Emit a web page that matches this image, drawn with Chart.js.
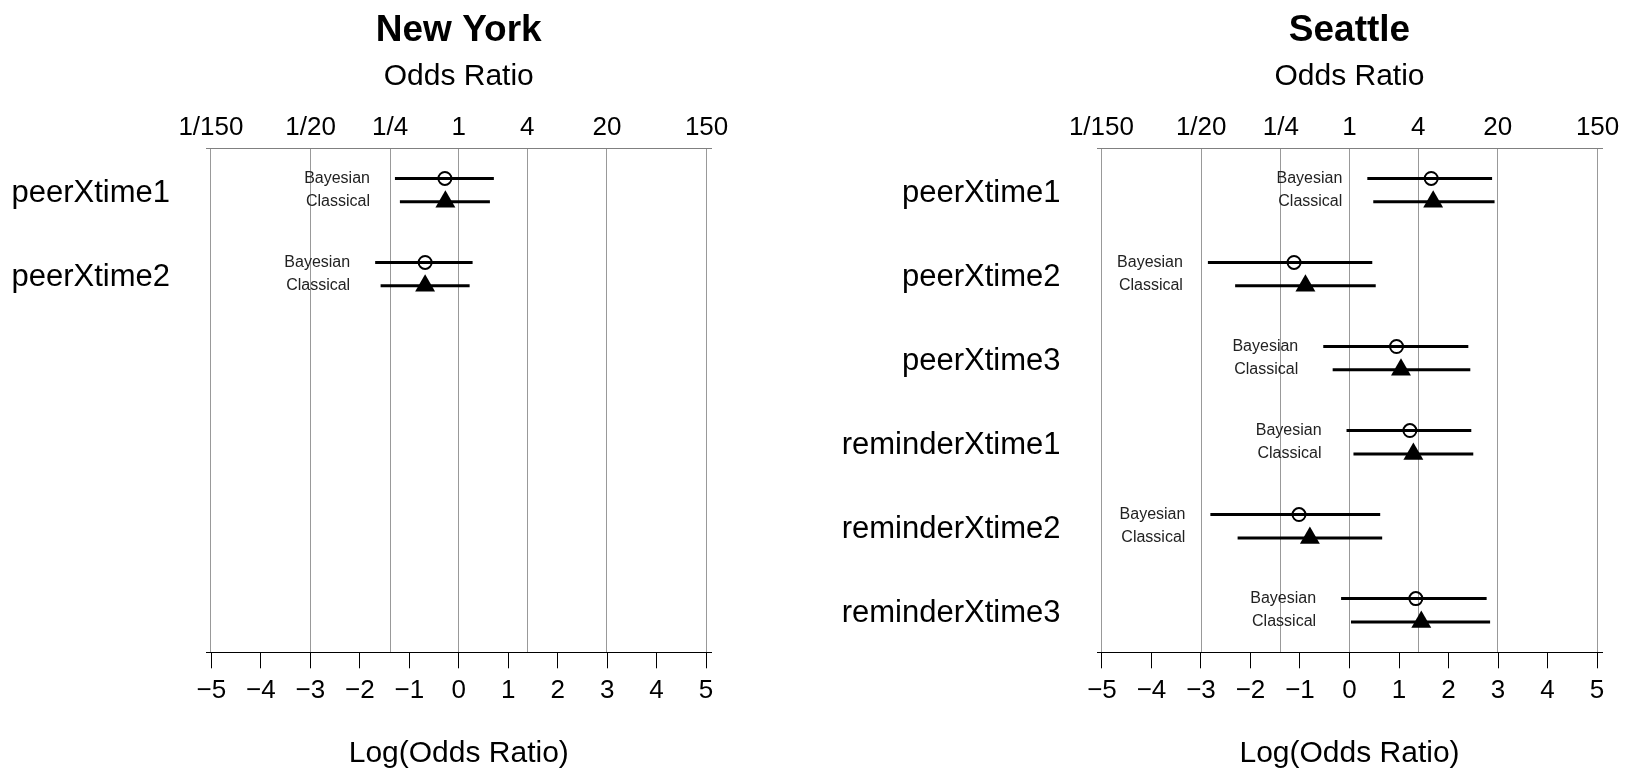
<!DOCTYPE html>
<html>
<head>
<meta charset="utf-8">
<script src="https://cdn.jsdelivr.net/npm/chart.js@4.4.1/dist/chart.umd.min.js"></script>
<style>
  html, body { margin: 0; padding: 0; background: #fff; }
  #wrap { position: relative; width: 1625px; height: 773px; }
  canvas { position: absolute; top: 0; }
  #ny { left: 0; }
  #sea { left: 812px; }
</style>
</head>
<body>
<div id="wrap">
  <canvas id="ny" width="812" height="773"></canvas>
  <canvas id="sea" width="813" height="773"></canvas>
</div>
<script>
// top axis: odds ratio labels, placed at log(odds)
const oddsLabels = ['1/150', '1/20', '1/4', '1', '4', '20', '150'];
const oddsValues = [1 / 150, 1 / 20, 1 / 4, 1, 4, 20, 150];
// bottom axis: log odds ticks
const logTicks = [-5, -4, -3, -2, -1, 0, 1, 2, 3, 4, 5];

// New York
const nyTerms = ['peerXtime1', 'peerXtime2'];
const nyBayesEst = [-0.28, -0.68];
const nyBayesLow = [-1.29, -1.69];
const nyBayesHigh = [0.71, 0.28];
const nyClassEst = [-0.27, -0.68];
const nyClassLow = [-1.19, -1.58];
const nyClassHigh = [0.63, 0.22];

// Seattle
const seaTerms = ['peerXtime1', 'peerXtime2', 'peerXtime3', 'reminderXtime1', 'reminderXtime2', 'reminderXtime3'];
const seaBayesEst = [1.65, -1.12, 0.95, 1.22, -1.02, 1.34];
const seaBayesLow = [0.36, -2.86, -0.53, -0.06, -2.81, -0.17];
const seaBayesHigh = [2.88, 0.46, 2.40, 2.46, 0.62, 2.77];
const seaClassEst = [1.69, -0.89, 1.04, 1.29, -0.80, 1.45];
const seaClassLow = [0.48, -2.31, -0.34, 0.08, -2.26, 0.03];
const seaClassHigh = [2.93, 0.53, 2.44, 2.50, 0.66, 2.84];

const FONT = "'Liberation Sans', Arial, sans-serif";
const OFF = 0.139; // vertical offset of the two estimates within a row

Chart.defaults.font.family = FONT;
Chart.defaults.color = '#000';

// "Bayesian" / "Classical" text to the left of each pair of intervals
const ciLabelPlugin = {
  id: 'ciLabels',
  afterDatasetsDraw(chart, args, opts) {
    const { ctx } = chart;
    const x = chart.scales.x, y = chart.scales.y;
    ctx.save();
    ctx.font = '16px ' + FONT;
    ctx.fillStyle = '#222';
    ctx.textAlign = 'right';
    ctx.textBaseline = 'middle';
    opts.low.forEach((lo, i) => {
      const px = x.getPixelForValue(lo) - 25;
      ctx.fillText('Bayesian', px, y.getPixelForValue(i + 1 - OFF));
      ctx.fillText('Classical', px, y.getPixelForValue(i + 1 + OFF));
    });
    ctx.restore();
  }
};

function ciLine(lo, hi, y) {
  return {
    data: [{ x: lo, y: y }, { x: hi, y: y }],
    showLine: true,
    borderColor: '#000',
    borderWidth: 3,
    pointRadius: 0,
    pointHoverRadius: 0,
    order: 2
  };
}

function makeChart(id, title, terms, bEst, bLow, bHigh, cEst, cLow, cHigh, yWidth, padRight) {
  const datasets = [];
  terms.forEach((t, i) => {
    datasets.push(ciLine(bLow[i], bHigh[i], i + 1 - OFF));
    datasets.push(ciLine(cLow[i], cHigh[i], i + 1 + OFF));
  });
  datasets.push({
    data: bEst.map((v, i) => ({ x: v, y: i + 1 - OFF })),
    pointStyle: 'circle',
    pointRadius: 6.5,
    pointHoverRadius: 6.5,
    borderColor: '#000',
    borderWidth: 2,
    backgroundColor: 'rgba(0,0,0,0)',
    order: 0
  });
  datasets.push({
    data: cEst.map((v, i) => ({ x: v, y: i + 1 + OFF })),
    pointStyle: 'triangle',
    pointRadius: 11.5,
    pointHoverRadius: 11.5,
    borderWidth: 0,
    backgroundColor: '#000',
    order: 0
  });

  return new Chart(document.getElementById(id), {
    type: 'scatter',
    data: { datasets: datasets },
    plugins: [ciLabelPlugin],
    options: {
      responsive: false,
      animation: false,
      layout: { padding: { left: 0, right: padRight, top: 0, bottom: 0 } },
      plugins: {
        legend: { display: false },
        tooltip: { enabled: false },
        title: {
          display: true, text: title, fullSize: false, color: '#000',
          font: { size: 37, weight: 'bold' }, padding: { top: 9, bottom: 0 }
        },
        subtitle: {
          display: true, text: 'Odds Ratio', fullSize: false, color: '#000',
          font: { size: 30 }, padding: { top: 5, bottom: 0 }
        },
        ciLabels: { low: bLow }
      },
      scales: {
        x: {
          type: 'linear', position: 'bottom', min: -5.1, max: 5.1,
          afterBuildTicks: s => { s.ticks = logTicks.map(v => ({ value: v })); },
          afterFit: s => { s.height = 120.7; },
          grid: { display: true, drawOnChartArea: false, drawTicks: true, tickLength: 16, color: '#000', lineWidth: 1 },
          border: { display: true, color: '#000', width: 1 },
          ticks: {
            autoSkip: false, maxRotation: 0, padding: 7, color: '#000', font: { size: 26 },
            callback: v => (v < 0 ? '\u2212' + Math.abs(v) : String(v))
          },
          title: {
            display: true, text: 'Log(Odds Ratio)', color: '#000',
            font: { size: 30 }, padding: { top: 0, bottom: 1 }
          }
        },
        x2: {
          type: 'linear', position: 'top', min: -5.1, max: 5.1,
          afterBuildTicks: s => { s.ticks = oddsValues.map(v => ({ value: Math.log(v) })); },
          afterFit: s => { s.height = 53.7; },
          grid: { display: true, drawOnChartArea: true, drawTicks: false, color: '#999', lineWidth: 1 },
          border: { display: true, color: '#808080', width: 1 },
          ticks: {
            autoSkip: false, maxRotation: 0, padding: 5, color: '#000', font: { size: 26 },
            callback: (v, i) => oddsLabels[i]
          }
        },
        y: {
          type: 'linear', min: 0.5, max: 6.5, reverse: true,
          afterBuildTicks: s => { s.ticks = terms.map((t, i) => ({ value: i + 1 })); },
          afterFit: s => { s.width = yWidth; },
          grid: { display: false, drawTicks: false },
          border: { display: false },
          ticks: {
            autoSkip: false, padding: 36.5, labelOffset: 3, color: '#000', font: { size: 31 },
            callback: (v, i) => terms[i]
          }
        }
      }
    }
  });
}

makeChart('ny', 'New York', nyTerms, nyBayesEst, nyBayesLow, nyBayesHigh,
  nyClassEst, nyClassLow, nyClassHigh, 206.5, 101);
makeChart('sea', 'Seattle', seaTerms, seaBayesEst, seaBayesLow, seaBayesHigh,
  seaClassEst, seaClassLow, seaClassHigh, 285, 23);
</script>
</body>
</html>
